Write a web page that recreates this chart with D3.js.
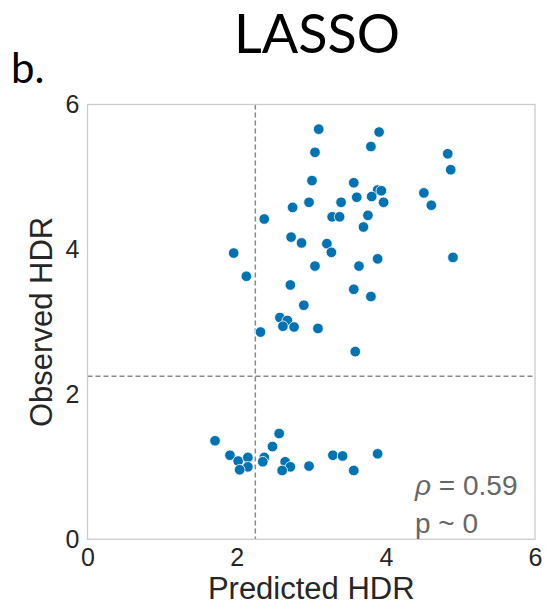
<!DOCTYPE html>
<html>
<head>
<meta charset="utf-8">
<script src="https://cdn.jsdelivr.net/npm/d3@7"></script>
<style>
  html, body { margin: 0; padding: 0; background: #fff; }
  svg { display: block; }
</style>
</head>
<body>
<svg id="scatter-plot" width="546" height="606" viewBox="0 0 546 606"></svg>
<script>

// predicted vs observed HDR
const predicted = [
	3.10, 3.91, 3.80, 4.83, 4.87, 3.05, 3.01, 3.57, 3.89, 3.94,
	3.61, 3.81, 3.97, 2.97, 3.40, 4.51, 4.61, 3.28, 3.38, 3.76,
	3.70, 2.75, 2.37, 2.73, 2.87, 3.21, 1.96, 3.27, 3.05, 3.64,
	3.89, 4.90, 2.13, 2.72, 3.57, 3.80, 2.90, 2.58, 2.68, 2.62,
	2.77, 3.09, 2.32, 3.59,
	1.71, 2.57, 2.48, 1.91, 2.02, 2.15, 2.37, 2.35, 2.15, 2.04,
	2.65, 2.72, 2.61, 2.97, 3.29, 3.42, 3.89, 3.57
];
const observed = [
	5.66, 5.62, 5.42, 5.32, 5.10, 5.34, 4.95, 4.92, 4.82, 4.81,
	4.72, 4.73, 4.65, 4.65, 4.65, 4.78, 4.61, 4.45, 4.45, 4.47,
	4.31, 4.58, 4.42, 4.17, 4.09, 4.08, 3.95, 3.96, 3.77, 3.77,
	3.87, 3.89, 3.63, 3.51, 3.45, 3.35, 3.23, 3.06, 3.02, 2.94,
	2.93, 2.91, 2.86, 2.59,
	1.36, 1.46, 1.28, 1.16, 1.08, 1.13, 1.13, 1.07, 1.00, 0.96,
	1.07, 1.00, 0.95, 1.01, 1.16, 1.15, 1.18, 0.95
];

const xTicks = [0, 2, 4, 6];
const yTicks = [0, 2, 4, 6];
const threshold = 2.25;
const annotation = ["\u03C1 = 0.59", "p ~ 0"];

class ScatterPlot {

	constructor(svg_element_id) {
		this.svg = d3.select('#' + svg_element_id);

		const left = 87.5, right = 535, top = 104.5, bottom = 539.3;

		const x = d3.scaleLinear().domain([0, 6]).range([left, right]);
		const y = d3.scaleLinear().domain([0, 6]).range([bottom, top]);

		const sans = "'Liberation Sans', Arial, sans-serif";

		// title and panel letter
		this.svg.append("text")
			.attr("x", 317).attr("y", 53)
			.attr("text-anchor", "middle")
			.style("font-family", "Lato, sans-serif")
			.style("font-size", "54px")
			.attr("fill", "#000")
			.text("LASSO");

		this.svg.append("text")
			.attr("x", 11).attr("y", 83)
			.style("font-family", "Lato, sans-serif")
			.style("font-size", "42px")
			.attr("fill", "#000")
			.text("b.");

		// threshold lines
		this.svg.append("line")
			.attr("x1", x(threshold)).attr("x2", x(threshold))
			.attr("y1", top).attr("y2", bottom)
			.attr("stroke", "#8a8a8a").attr("stroke-width", 1.5)
			.attr("stroke-dasharray", "5,3");
		this.svg.append("line")
			.attr("x1", left).attr("x2", right)
			.attr("y1", y(threshold)).attr("y2", y(threshold))
			.attr("stroke", "#8a8a8a").attr("stroke-width", 1.5)
			.attr("stroke-dasharray", "5,3");

		// frame
		this.svg.append("rect")
			.attr("x", left).attr("y", top)
			.attr("width", right - left).attr("height", bottom - top)
			.attr("fill", "none")
			.attr("stroke", "#cccccc").attr("stroke-width", 1.3);

		// axes, no tick marks
		const xAxis = this.svg.append("g")
			.attr("transform", `translate(0,${bottom})`)
			.call(d3.axisBottom(x).tickValues(xTicks).tickSize(0).tickPadding(9).tickFormat(d3.format("d")));
		const yAxis = this.svg.append("g")
			.attr("transform", `translate(${left},0)`)
			.call(d3.axisLeft(y).tickValues(yTicks).tickSize(0).tickPadding(8).tickFormat(d3.format("d")));
		[xAxis, yAxis].forEach(a => {
			a.select(".domain").remove();
			a.selectAll("text")
				.style("font-family", sans)
				.style("font-size", "25px")
				.attr("fill", "#262626");
		});

		// axis labels
		this.svg.append("text")
			.attr("x", (left + right) / 2).attr("y", 599)
			.attr("text-anchor", "middle")
			.style("font-family", sans).style("font-size", "31px")
			.attr("fill", "#262626")
			.text("Predicted HDR");
		this.svg.append("text")
			.attr("transform", `translate(52,${(top + bottom) / 2}) rotate(-90)`)
			.attr("text-anchor", "middle")
			.style("font-family", sans).style("font-size", "31px")
			.attr("fill", "#262626")
			.text("Observed HDR");

		// points
		const points = predicted.map((p, i) => ({ p: p, o: observed[i] }));
		this.svg.append("g")
			.selectAll("circle")
			.data(points)
			.enter().append("circle")
			.attr("cx", d => x(d.p))
			.attr("cy", d => y(d.o))
			.attr("r", 5.3)
			.attr("fill", "#0173b2")
			.attr("stroke", "#fff")
			.attr("stroke-width", 0.8);

		// correlation note
		const note = this.svg.append("text")
			.attr("x", 415).attr("y", 495)
			.style("font-family", sans).style("font-size", "28px")
			.attr("fill", "#666666");
		note.append("tspan").attr("x", 415).style("font-style", "italic").text(annotation[0].slice(0, 1));
		note.append("tspan").text(annotation[0].slice(1));
		note.append("tspan").attr("x", 415).attr("dy", 38).text(annotation[1]);
	}
}

function whenDocumentLoaded(action) {
	if (document.readyState === "loading") {
		document.addEventListener("DOMContentLoaded", action);
	} else {
		action();
	}
}

whenDocumentLoaded(() => {
	plot_object = new ScatterPlot('scatter-plot');
});
</script>
</body>
</html>
